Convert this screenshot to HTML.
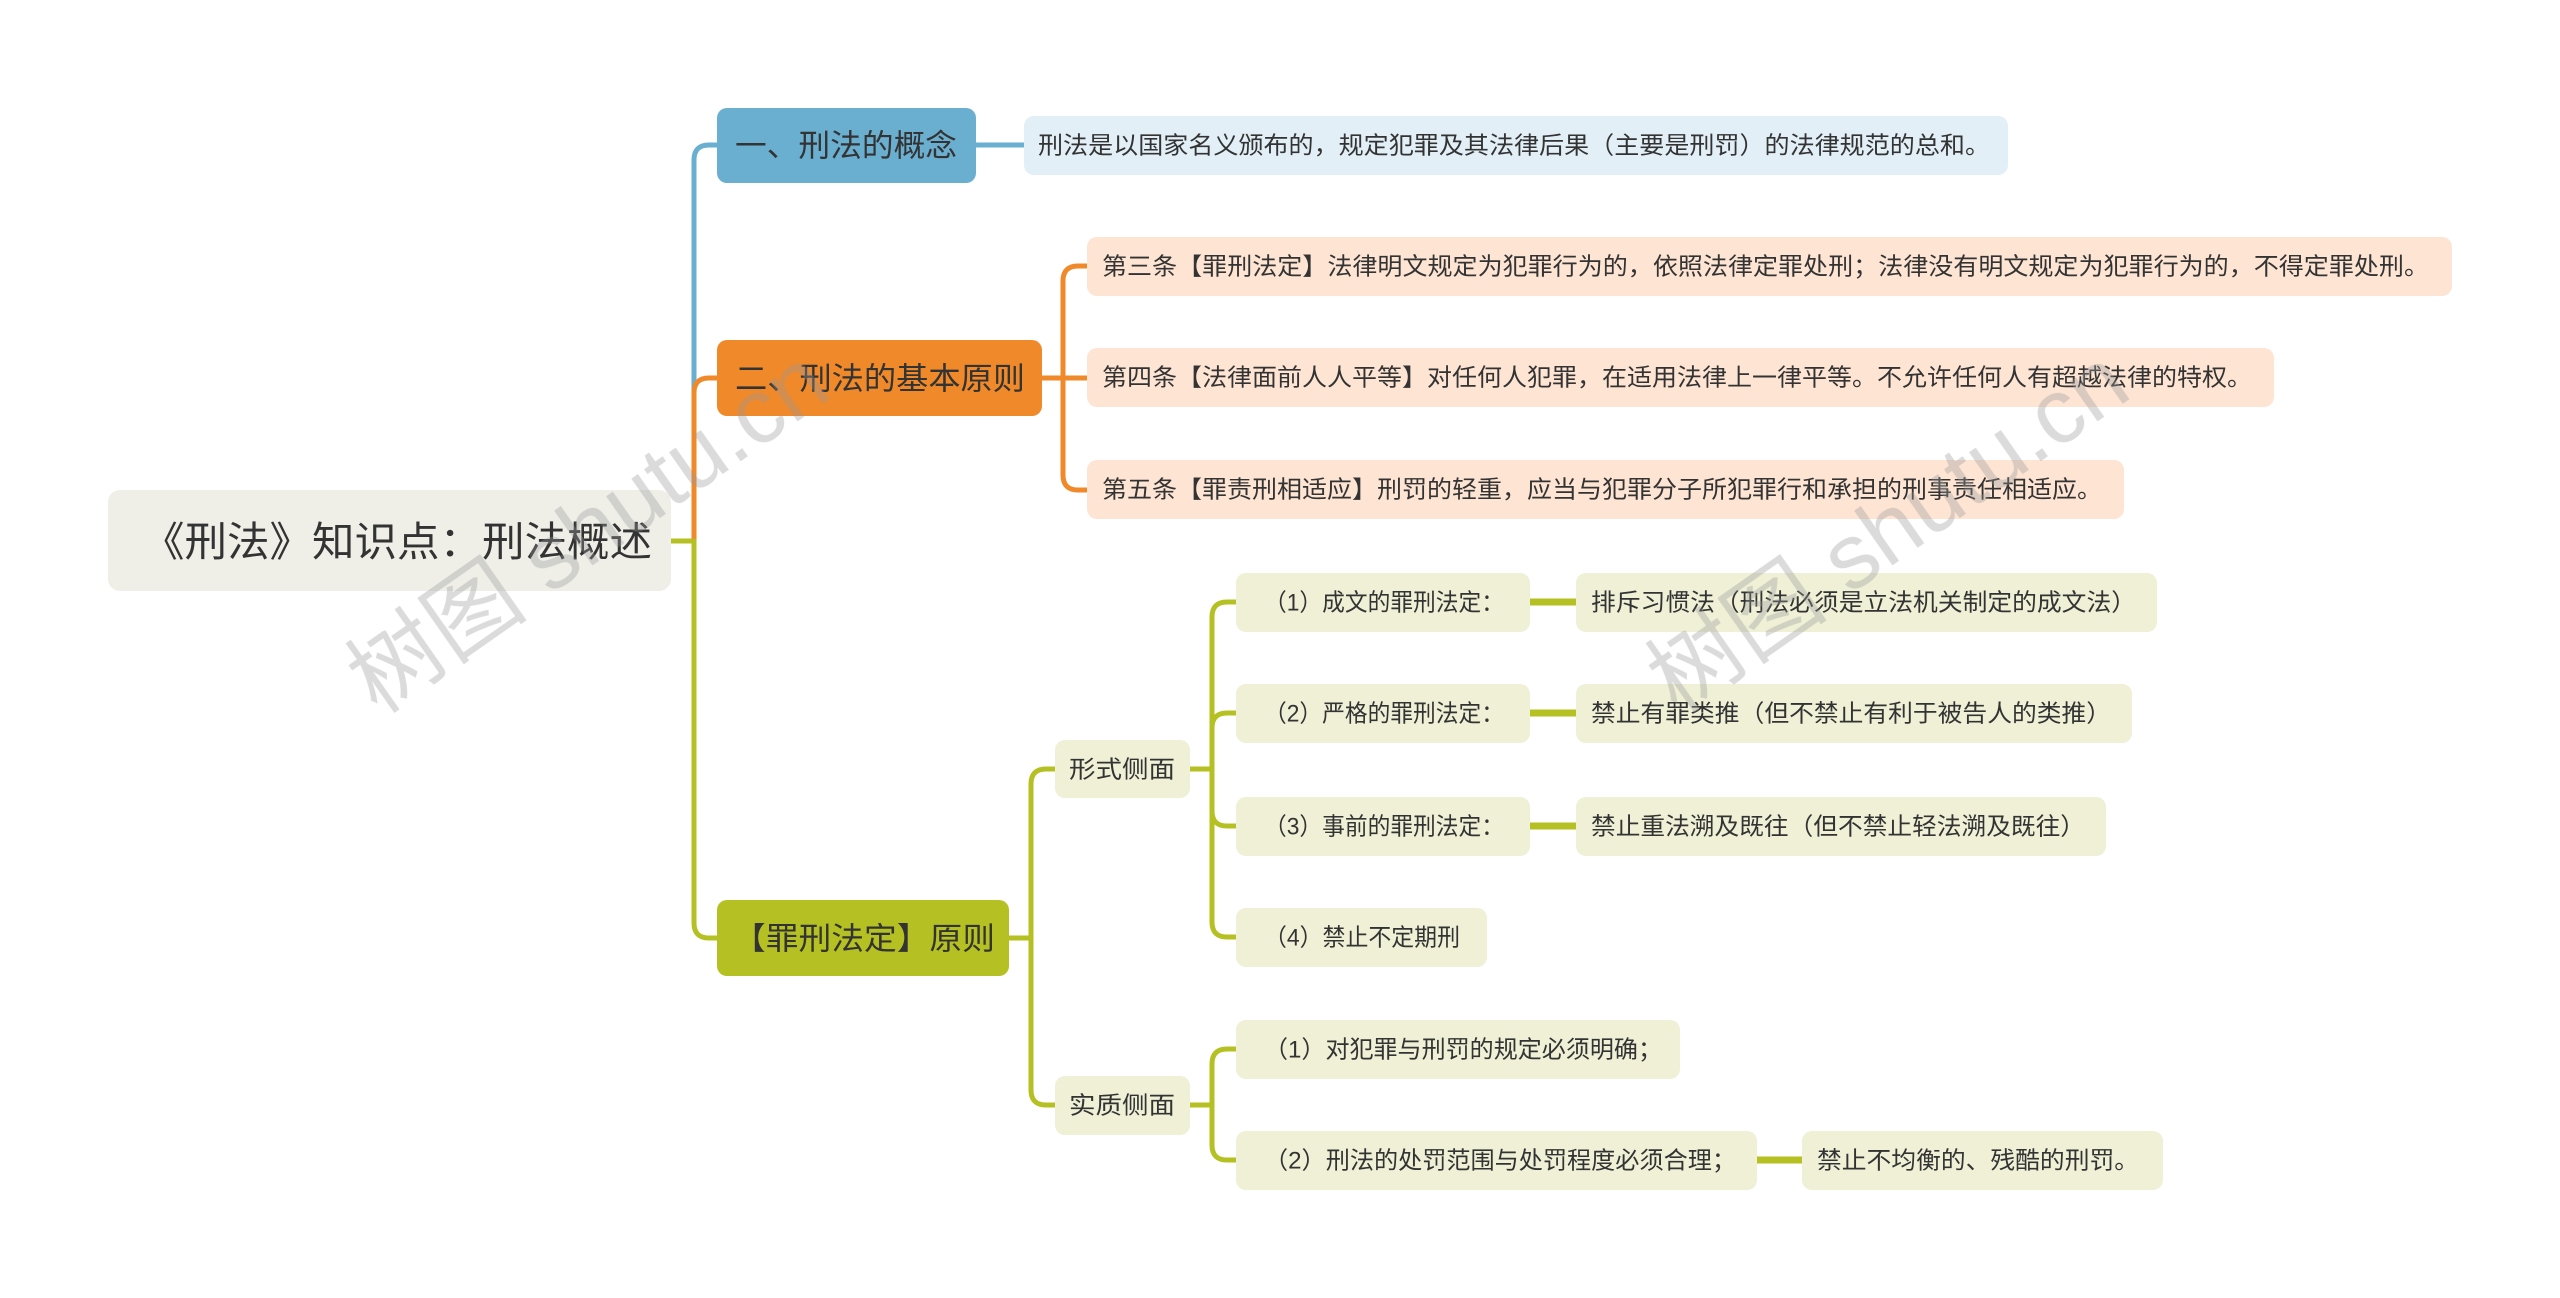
<!DOCTYPE html>
<html><head><meta charset="utf-8"><style>
html,body{margin:0;padding:0;background:#fff;}
svg{display:block;}
text{font-family:"Liberation Sans","Noto Sans CJK SC",sans-serif;fill:#333;dominant-baseline:central;}
</style></head><body>
<svg width="2560" height="1298" viewBox="0 0 2560 1298" xmlns="http://www.w3.org/2000/svg">
<g fill="none" stroke-width="5" stroke-linecap="round">
<!-- root trunk -->
<path d="M671,541 H694" stroke="#b5c022"/>
<path d="M694,541 V160 Q694,145 709,145 H717" stroke="#6aaed0"/>
<path d="M694,541 V393 Q694,378 709,378 H717" stroke="#f0892a"/>
<path d="M694,541 V923 Q694,938 709,938 H717" stroke="#b5c022"/>
<!-- blue leaf -->
<path d="M976,145 H1024" stroke="#6aaed0"/>
<!-- orange -->
<path d="M1042,378 H1063" stroke="#f0892a"/>
<path d="M1063,378 V281 Q1063,266 1078,266 H1087" stroke="#f0892a"/>
<path d="M1063,378 H1087" stroke="#f0892a"/>
<path d="M1063,378 V475 Q1063,490 1078,490 H1087" stroke="#f0892a"/>
<!-- olive -->
<path d="M1009,938 H1031" stroke="#b5c022"/>
<path d="M1031,938 V784 Q1031,769 1046,769 H1055" stroke="#b5c022"/>
<path d="M1031,938 V1090 Q1031,1105 1046,1105 H1055" stroke="#b5c022"/>
<path d="M1190,769 H1212" stroke="#b5c022"/>
<path d="M1212,769 V617 Q1212,602 1227,602 H1236" stroke="#b5c022"/>
<path d="M1212,769 V728 Q1212,713 1227,713 H1236" stroke="#b5c022"/>
<path d="M1212,769 V811 Q1212,826 1227,826 H1236" stroke="#b5c022"/>
<path d="M1212,769 V922 Q1212,937 1227,937 H1236" stroke="#b5c022"/>
<path d="M1190,1105 H1212" stroke="#b5c022"/>
<path d="M1212,1105 V1064 Q1212,1049 1227,1049 H1236" stroke="#b5c022"/>
<path d="M1212,1105 V1145 Q1212,1160 1227,1160 H1236" stroke="#b5c022"/>
<path d="M1530,602 H1576 M1530,713 H1576 M1530,826 H1576 M1757,1160 H1802" stroke="#b5c022" stroke-width="7" stroke-linecap="butt"/>
</g>
<!-- root -->
<rect x="108" y="490" width="563" height="101" rx="12" fill="#efefe8"/>
<text x="142" y="542" font-size="41" textLength="510" lengthAdjust="spacingAndGlyphs">《刑法》知识点：刑法概述</text>
<!-- branch 1 -->
<rect x="717" y="108" width="259" height="75" rx="10" fill="#6aaed0"/>
<text x="735" y="146" font-size="31" textLength="222" lengthAdjust="spacingAndGlyphs">一、刑法的概念</text>
<rect x="1024" y="116" width="984" height="59" rx="10" fill="#e2eff7"/>
<text x="1038" y="146" font-size="24" textLength="952" lengthAdjust="spacingAndGlyphs">刑法是以国家名义颁布的，规定犯罪及其法律后果（主要是刑罚）的法律规范的总和。</text>
<!-- branch 2 -->
<rect x="717" y="340" width="325" height="76" rx="10" fill="#f0892a"/>
<text x="735" y="379" font-size="31" textLength="290" lengthAdjust="spacingAndGlyphs">二、刑法的基本原则</text>
<rect x="1087" y="237" width="1365" height="59" rx="10" fill="#fde4d3"/>
<text x="1102" y="267" font-size="24" textLength="1327" lengthAdjust="spacingAndGlyphs">第三条【罪刑法定】法律明文规定为犯罪行为的，依照法律定罪处刑；法律没有明文规定为犯罪行为的，不得定罪处刑。</text>
<rect x="1087" y="348" width="1187" height="59" rx="10" fill="#fde4d3"/>
<text x="1102" y="378" font-size="24" textLength="1150" lengthAdjust="spacingAndGlyphs">第四条【法律面前人人平等】对任何人犯罪，在适用法律上一律平等。不允许任何人有超越法律的特权。</text>
<rect x="1087" y="460" width="1037" height="59" rx="10" fill="#fde4d3"/>
<text x="1102" y="490" font-size="24" textLength="1000" lengthAdjust="spacingAndGlyphs">第五条【罪责刑相适应】刑罚的轻重，应当与犯罪分子所犯罪行和承担的刑事责任相适应。</text>
<!-- branch 3 -->
<rect x="717" y="900" width="292" height="76" rx="10" fill="#b5c022"/>
<text x="733" y="939" font-size="31" textLength="262" lengthAdjust="spacingAndGlyphs">【罪刑法定】原则</text>
<rect x="1055" y="740" width="135" height="58" rx="10" fill="#eff0d6"/>
<text x="1069" y="770" font-size="24" textLength="106" lengthAdjust="spacingAndGlyphs">形式侧面</text>
<rect x="1055" y="1076" width="135" height="59" rx="10" fill="#eff0d6"/>
<text x="1069" y="1106" font-size="24" textLength="106" lengthAdjust="spacingAndGlyphs">实质侧面</text>
<g fill="#eff0d6">
<rect x="1236" y="573" width="294" height="59" rx="10"/>
<rect x="1236" y="684" width="294" height="59" rx="10"/>
<rect x="1236" y="797" width="294" height="59" rx="10"/>
<rect x="1236" y="908" width="251" height="59" rx="10"/>
<rect x="1576" y="573" width="581" height="59" rx="10"/>
<rect x="1576" y="684" width="556" height="59" rx="10"/>
<rect x="1576" y="797" width="530" height="59" rx="10"/>
<rect x="1236" y="1020" width="444" height="59" rx="10"/>
<rect x="1236" y="1131" width="521" height="59" rx="10"/>
<rect x="1802" y="1131" width="361" height="59" rx="10"/>
</g>
<text x="1264" y="603" font-size="24" textLength="240" lengthAdjust="spacingAndGlyphs">（1）成文的罪刑法定：</text>
<text x="1264" y="714" font-size="24" textLength="240" lengthAdjust="spacingAndGlyphs">（2）严格的罪刑法定：</text>
<text x="1264" y="827" font-size="24" textLength="240" lengthAdjust="spacingAndGlyphs">（3）事前的罪刑法定：</text>
<text x="1264" y="938" font-size="24" textLength="196" lengthAdjust="spacingAndGlyphs">（4）禁止不定期刑</text>
<text x="1591" y="603" font-size="24" textLength="545" lengthAdjust="spacingAndGlyphs">排斥习惯法（刑法必须是立法机关制定的成文法）</text>
<text x="1591" y="714" font-size="24" textLength="520" lengthAdjust="spacingAndGlyphs">禁止有罪类推（但不禁止有利于被告人的类推）</text>
<text x="1591" y="827" font-size="24" textLength="494" lengthAdjust="spacingAndGlyphs">禁止重法溯及既往（但不禁止轻法溯及既往）</text>
<text x="1264" y="1050" font-size="24" textLength="398" lengthAdjust="spacingAndGlyphs">（1）对犯罪与刑罚的规定必须明确；</text>
<text x="1264" y="1161" font-size="24" textLength="472" lengthAdjust="spacingAndGlyphs">（2）刑法的处罚范围与处罚程度必须合理；</text>
<text x="1817" y="1161" font-size="24" textLength="322" lengthAdjust="spacingAndGlyphs">禁止不均衡的、残酷的刑罚。</text>
<!-- watermarks -->
<g opacity="0.35">
<text x="0" y="0" font-size="92" font-family="Liberation Serif,Noto Serif CJK SC,serif" style="fill:#999" transform="translate(360,690) rotate(-35)">树图 shutu.cn</text>
<text x="0" y="0" font-size="92" font-family="Liberation Serif,Noto Serif CJK SC,serif" style="fill:#999" transform="translate(1660,690) rotate(-35)">树图 shutu.cn</text>
</g>
</svg>
</body></html>
